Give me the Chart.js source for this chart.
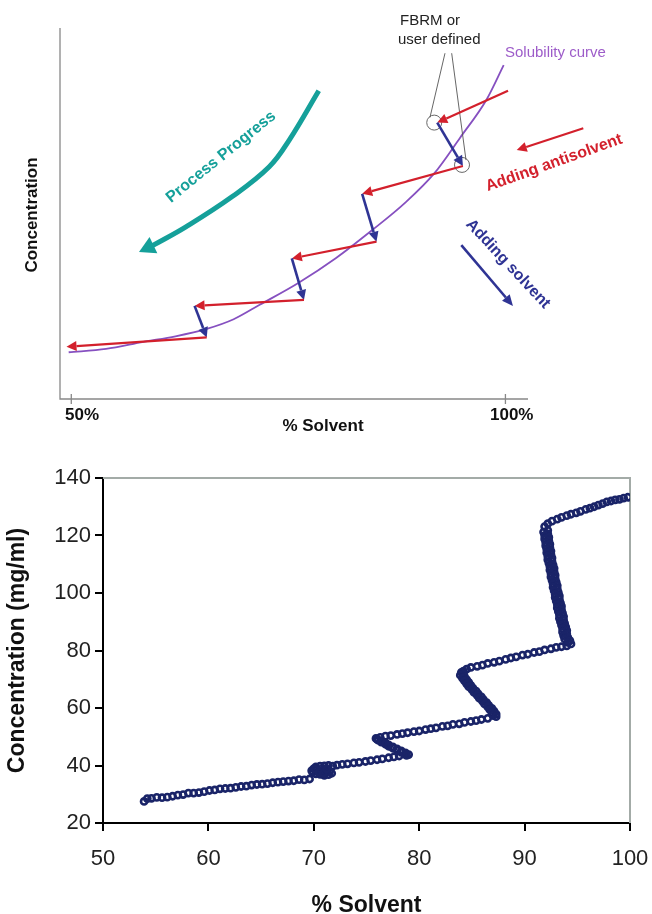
<!DOCTYPE html>
<html>
<head>
<meta charset="utf-8">
<script src="https://cdn.jsdelivr.net/npm/chart.js@4.4.0/dist/chart.umd.min.js"></script>
<style>
  body { margin: 0; background: #fff; }
  #wrap { position: relative; width: 652px; height: 914px; }
  canvas { position: absolute; left: 0; }
  #diagram { top: 0; }
  #dataChart { top: 440px; }
</style>
</head>
<body>
<div id="wrap">
  <canvas id="diagram" width="652" height="440"></canvas>
  <canvas id="dataChart" width="652" height="474"></canvas>
</div>
<script>
// ---- top schematic (arbitrary concentration units, x in % solvent) ----
const curveX = [49.7, 54, 58.3, 62, 65.6, 68.7, 71.7, 76.1, 80.5, 84.7, 88.5, 91.8, 94.8, 97.8, 99.8];
const curveY = [12.6, 13.5, 15.4, 16.9, 18.9, 21.5, 25.4, 31.2, 38.0, 45.6, 53.0, 60.8, 70.5, 80.6, 90.0];

// zig-zag path: antisolvent (red) and solvent (blue) steps alternate
const stepX = [100.3, 92.15, 95.1, 83.5, 85.15, 75.4, 76.8, 64.2, 65.6, 49.45];
const stepY = [83.1, 74.5, 62.8, 55.3, 42.4, 37.9, 26.7, 25.1, 16.6, 14.1];

// "Process Progress" curved arrow, last point is the arrow tip
const progressX = [78.5, 75.1, 72.8, 68.5, 63.2, 59.4, 57.8];
const progressY = [83.1, 69.8, 62.6, 54.5, 46.4, 41.4, 39.6];

// FBRM / user defined markers and their callout lines
const markerX = [91.8, 95.0];
const markerY = [74.5, 63.1];
const calloutFromX = [93.04, 93.81];
const calloutFromY = [93.2, 93.2];
const calloutToX = [91.31, 95.46];
const calloutToY = [75.9, 64.4];

// key arrows next to the labels
const antisolventKeyX = [108.97, 101.3];
const antisolventKeyY = [72.97, 67.1];
const solventKeyX = [94.92, 100.87];
const solventKeyY = [41.5, 25.1];

const topTicks = [50, 100];
const topTickLabels = ['50%', '100%'];

// ---- bottom measured data (in process order) ----
const solventPct = [
  // top antisolvent line
  99.8, 99.4, 99.0, 98.6, 98.2, 97.8, 97.4, 97.0, 96.6, 96.2, 95.8, 95.3, 94.9, 94.4, 94.0, 93.5, 93.1, 92.6, 92.2, 91.9,
  // steep solvent step
  92.2, 91.8, 92.2, 91.9, 92.3, 91.9, 92.3, 92.0, 92.4, 92.0,
  92.4, 92.1, 92.5, 92.1, 92.5, 92.2, 92.6, 92.2, 92.6, 92.3,
  92.7, 92.4, 92.8, 92.4, 92.8, 92.5, 92.9, 92.5, 92.9, 92.6,
  93.0, 92.7, 93.1, 92.7, 93.1, 92.8, 93.2, 92.9, 93.3, 92.9,
  93.3, 93.0, 93.4, 93.1, 93.5, 93.1, 93.5, 93.2, 93.6, 93.3,
  93.7, 93.3, 93.7, 93.4, 93.8, 93.5, 93.9, 93.6, 94.0, 93.6,
  94.0, 93.7, 94.1, 93.8, 94.3, 94.1, 94.4,
  // second antisolvent line
  94.0, 93.5, 93.0, 92.5, 91.9, 91.4, 90.9, 90.3, 89.8, 89.2, 88.7, 88.2, 87.6, 87.1, 86.5, 86.0, 85.5, 84.9, 84.5, 84.2,
  // second solvent step
  84.0, 84.2, 83.9, 84.3, 84.1, 84.5, 84.3, 84.7, 84.5, 84.9,
  84.7, 85.1, 85.0, 85.4, 85.2, 85.6, 85.5, 85.9, 85.7, 86.1,
  86.0, 86.4, 86.2, 86.6, 86.5, 86.9, 86.7, 87.1, 86.9, 87.3,
  87.0, 87.3,
  // third antisolvent line
  86.5, 85.9, 85.4, 84.9, 84.3, 83.8, 83.2, 82.7, 82.2, 81.6, 81.1, 80.6, 80.0, 79.5, 78.9, 78.4, 77.9, 77.3, 76.8, 76.3, 75.9,
  // third solvent step
  76.0, 76.1, 76.4, 76.4, 76.8, 76.8, 77.1, 77.1, 77.5, 77.5, 77.9, 77.9, 78.3, 78.3, 78.7, 78.7, 79.0, 78.8,
  // fourth antisolvent line
  78.1, 77.6, 77.1, 76.5, 76.0, 75.4, 74.9, 74.3, 73.8, 73.2, 72.7, 72.2, 71.8,
  // cluster near 70 %
  71.4, 71.0, 70.6, 70.2, 70.0, 70.3, 70.7, 71.1, 71.5, 71.7, 71.4, 71.0, 70.6, 70.2, 69.9, 69.8, 70.1, 70.5, 70.9, 71.2,
  // last antisolvent line
  69.6, 69.1, 68.6, 68.1, 67.6, 67.1, 66.6, 66.1, 65.6, 65.1, 64.6, 64.1, 63.6, 63.1, 62.6, 62.1, 61.6, 61.1, 60.6, 60.1,
  59.6, 59.1, 58.6, 58.1, 57.6, 57.1, 56.6, 56.1, 55.6, 55.1, 54.6, 54.2, 53.9
];
const concentration = [
  133.3, 133.0, 132.6, 132.4, 132.0, 131.7, 131.1, 130.6, 130.0, 129.5, 129.1, 128.4, 127.9, 127.4, 126.9, 126.3, 125.7, 125.0, 124.1, 123.1,
  121.8, 121.2, 120.6, 120.0, 119.4, 118.8, 118.2, 117.6, 117.0, 116.4,
  115.8, 115.2, 114.6, 114.0, 113.4, 112.8, 112.2, 111.6, 111.0, 110.4,
  109.8, 109.2, 108.6, 108.0, 107.4, 106.8, 106.2, 105.6, 105.0, 104.4,
  103.8, 103.2, 102.6, 102.0, 101.4, 100.8, 100.2, 99.6, 99.0, 98.4,
  97.8, 97.2, 96.6, 96.0, 95.4, 94.8, 94.2, 93.6, 93.0, 92.4,
  91.8, 91.2, 90.6, 90.0, 89.4, 88.8, 88.2, 87.6, 87.0, 86.4,
  85.8, 85.2, 84.6, 84.0, 83.4, 82.8, 82.3,
  81.6, 81.3, 81.1, 80.6, 80.2, 79.6, 79.3, 78.7, 78.4, 77.8, 77.4, 76.9, 76.3, 75.9, 75.5, 74.9, 74.5, 74.1, 73.5, 72.8,
  72.4, 71.9, 71.4, 70.9, 70.4, 69.9, 69.4, 68.9, 68.4, 67.9,
  67.4, 66.9, 66.4, 65.9, 65.4, 64.9, 64.4, 63.9, 63.4, 62.9,
  62.4, 61.9, 61.4, 60.9, 60.4, 59.9, 59.4, 58.9, 58.4, 57.9,
  57.4, 57.0,
  56.4, 56.0, 55.6, 55.3, 55.0, 54.5, 54.3, 53.8, 53.6, 53.1, 52.8, 52.5, 52.0, 51.8, 51.4, 51.1, 50.8, 50.4, 50.2, 49.8, 49.4,
  49.2, 48.8, 48.6, 48.1, 47.9, 47.4, 47.2, 46.7, 46.5, 46.0, 45.8, 45.3, 45.1, 44.6, 44.4, 43.9, 43.8, 43.5,
  43.3, 43.0, 42.7, 42.3, 42.0, 41.7, 41.4, 41.1, 40.9, 40.6, 40.4, 40.1, 39.8,
  40.0, 39.9, 39.8, 39.5, 38.9, 38.4, 38.1, 38.2, 37.9, 37.3, 36.8, 36.6, 36.9, 37.1, 37.6, 38.2, 38.7, 37.6, 37.3, 38.8,
  35.3, 35.0, 35.1, 34.7, 34.6, 34.4, 34.2, 34.0, 33.7, 33.5, 33.4, 33.2, 32.8, 32.7, 32.4, 32.1, 32.0, 31.9, 31.5, 31.3,
  30.9, 30.6, 30.4, 30.4, 29.9, 29.7, 29.3, 29.0, 28.8, 28.9, 28.6, 28.5, 27.5
];
const yTicks = [20, 40, 60, 80, 100, 120, 140];
const xTicks = [50, 60, 70, 80, 90, 100];

const FONT = "'Liberation Sans', Arial, sans-serif";
const RED = '#d3202c';
const BLUE = '#2f3494';
const PURPLE = '#8650c0';
const TEAL = '#15a09a';
const NAVY = '#1a2468';

Chart.defaults.font.family = FONT;

function drawArrow(ctx, x0, y0, x1, y1, color, width, headLen, headHalf) {
  const ang = Math.atan2(y1 - y0, x1 - x0);
  const bx = x1 - headLen * Math.cos(ang);
  const by = y1 - headLen * Math.sin(ang);
  ctx.strokeStyle = color;
  ctx.fillStyle = color;
  ctx.lineWidth = width;
  ctx.beginPath();
  ctx.moveTo(x0, y0);
  ctx.lineTo(bx, by);
  ctx.stroke();
  ctx.beginPath();
  ctx.moveTo(x1, y1);
  ctx.lineTo(bx + headHalf * Math.sin(ang), by - headHalf * Math.cos(ang));
  ctx.lineTo(bx - headHalf * Math.sin(ang), by + headHalf * Math.cos(ang));
  ctx.closePath();
  ctx.fill();
}

function rotText(ctx, text, x, y, deg, font, color) {
  ctx.save();
  ctx.translate(x, y);
  ctx.rotate(deg * Math.PI / 180);
  ctx.font = font;
  ctx.fillStyle = color;
  ctx.textAlign = 'center';
  ctx.textBaseline = 'middle';
  ctx.fillText(text, 0, 0);
  ctx.restore();
}

// draws axes, arrows and labels of the schematic
const diagramPlugin = {
  id: 'diagramExtras',
  afterDatasetsDraw(chart) {
    const ctx = chart.ctx;
    const a = chart.chartArea;
    const X = v => chart.scales.x.getPixelForValue(v);
    const Y = v => chart.scales.y.getPixelForValue(v);
    ctx.save();

    // axes
    ctx.strokeStyle = '#888';
    ctx.lineWidth = 1.3;
    ctx.beginPath();
    ctx.moveTo(a.left, a.top);
    ctx.lineTo(a.left, a.bottom);
    ctx.lineTo(a.right, a.bottom);
    ctx.stroke();
    topTicks.forEach(v => {
      ctx.beginPath();
      ctx.moveTo(X(v), a.bottom - 5);
      ctx.lineTo(X(v), a.bottom + 5);
      ctx.stroke();
    });

    // callout lines
    ctx.strokeStyle = '#555';
    ctx.lineWidth = 0.9;
    calloutFromX.forEach((v, i) => {
      ctx.beginPath();
      ctx.moveTo(X(v), Y(calloutFromY[i]));
      ctx.lineTo(X(calloutToX[i]), Y(calloutToY[i]));
      ctx.stroke();
    });

    // step arrows
    for (let i = 0; i < stepX.length - 1; i++) {
      const red = i % 2 === 0;
      drawArrow(ctx, X(stepX[i]), Y(stepY[i]), X(stepX[i + 1]), Y(stepY[i + 1]),
        red ? RED : BLUE, red ? 2.2 : 2.6, 10, 5);
    }

    // process progress arrow head
    const n = progressX.length;
    drawArrow(ctx, X(progressX[n - 2]), Y(progressY[n - 2]), X(progressX[n - 1]), Y(progressY[n - 1]),
      TEAL, 0.1, 16, 9);

    // key arrows
    drawArrow(ctx, X(antisolventKeyX[0]), Y(antisolventKeyY[0]), X(antisolventKeyX[1]), Y(antisolventKeyY[1]),
      RED, 2.2, 10, 5);
    drawArrow(ctx, X(solventKeyX[0]), Y(solventKeyY[0]), X(solventKeyX[1]), Y(solventKeyY[1]),
      BLUE, 2.6, 11, 5);

    // texts
    ctx.textBaseline = 'middle';
    ctx.fillStyle = '#111';
    ctx.font = 'bold 17px ' + FONT;
    ctx.textAlign = 'left';
    ctx.fillText(topTickLabels[0], 65, 415);
    ctx.fillText(topTickLabels[1], 490, 415);
    ctx.textAlign = 'center';
    ctx.fillText('% Solvent', 323, 426);
    rotText(ctx, 'Concentration', 32, 215, -90, 'bold 17px ' + FONT, '#111');

    ctx.font = '15px ' + FONT;
    ctx.fillStyle = '#222';
    ctx.textAlign = 'left';
    ctx.fillText('FBRM or', 400, 21);
    ctx.fillText('user defined', 398, 40);
    ctx.fillStyle = '#9d5cc9';
    ctx.fillText('Solubility curve', 505, 53);

    rotText(ctx, 'Process Progress', 221, 157, -39, 'bold 16px ' + FONT, TEAL);
    rotText(ctx, 'Adding antisolvent', 554, 163, -19.6, 'bold 16px ' + FONT, RED);
    rotText(ctx, 'Adding solvent', 508, 264, 47, 'bold 16px ' + FONT, BLUE);

    ctx.restore();
  }
};

new Chart(document.getElementById('diagram'), {
  type: 'scatter',
  data: {
    datasets: [
      {
        data: curveX.map((v, i) => ({ x: v, y: curveY[i] })),
        showLine: true,
        borderColor: PURPLE,
        borderWidth: 1.8,
        pointRadius: 0,
        cubicInterpolationMode: 'monotone'
      },
      {
        data: progressX.slice(0, -1).map((v, i) => ({ x: v, y: progressY[i] })),
        showLine: true,
        borderColor: TEAL,
        borderWidth: 5,
        pointRadius: 0,
        tension: 0.4
      },
      {
        data: markerX.map((v, i) => ({ x: v, y: markerY[i] })),
        showLine: false,
        pointRadius: 7.5,
        borderColor: '#666',
        borderWidth: 1,
        backgroundColor: 'rgba(0,0,0,0)'
      }
    ]
  },
  options: {
    responsive: false,
    animation: false,
    devicePixelRatio: 1,
    events: [],
    layout: { padding: { left: 60, right: 124, top: 28, bottom: 41 } },
    scales: {
      x: { type: 'linear', min: 48.7, max: 102.6, display: false },
      y: { min: 0, max: 100, display: false }
    },
    plugins: { legend: { display: false }, tooltip: { enabled: false } }
  },
  plugins: [diagramPlugin]
});

// grey top and right frame of the plot area
const framePlugin = {
  id: 'plotFrame',
  beforeDatasetsDraw(chart) {
    const { ctx, chartArea: a } = chart;
    ctx.save();
    ctx.strokeStyle = '#a3aba7';
    ctx.lineWidth = 2;
    ctx.beginPath();
    ctx.moveTo(a.left, a.top);
    ctx.lineTo(a.right, a.top);
    ctx.lineTo(a.right, a.bottom);
    ctx.stroke();
    ctx.restore();
  }
};

new Chart(document.getElementById('dataChart'), {
  type: 'scatter',
  data: {
    datasets: [{
      data: solventPct.map((v, i) => ({ x: v, y: concentration[i] })),
      pointRadius: 3.1,
      pointBorderWidth: 2.6,
      borderColor: NAVY,
      backgroundColor: 'rgba(0,0,0,0)'
    }]
  },
  options: {
    responsive: false,
    animation: false,
    devicePixelRatio: 1,
    events: [],
    layout: { padding: { left: 0, right: 22, top: 38, bottom: 0 } },
    scales: {
      x: {
        type: 'linear',
        min: xTicks[0],
        max: xTicks[xTicks.length - 1],
        afterFit: s => { s.height = 91; s.paddingLeft = 0; s.paddingRight = 0; },
        ticks: { stepSize: 10, padding: 15, color: '#222', font: { size: 22 } },
        grid: { drawOnChartArea: false, drawTicks: true, tickLength: 8, color: '#000', lineWidth: 2 },
        border: { display: true, color: '#000', width: 2 },
        title: { display: true, text: '% Solvent', color: '#111', font: { size: 23, weight: 'bold' }, padding: { top: 0, bottom: -5 } }
      },
      y: {
        min: yTicks[0],
        max: yTicks[yTicks.length - 1],
        afterFit: s => { s.width = 103; s.paddingTop = 0; s.paddingBottom = 0; },
        ticks: { stepSize: 20, padding: 4, color: '#222', font: { size: 22 } },
        grid: { drawOnChartArea: false, drawTicks: true, tickLength: 8, color: '#000', lineWidth: 2 },
        border: { display: true, color: '#000', width: 2 },
        title: { display: true, text: 'Concentration (mg/ml)', color: '#111', font: { size: 23, weight: 'bold' }, padding: { top: 4, bottom: 4 } }
      }
    },
    plugins: { legend: { display: false }, tooltip: { enabled: false } }
  },
  plugins: [framePlugin]
});
</script>
</body>
</html>
